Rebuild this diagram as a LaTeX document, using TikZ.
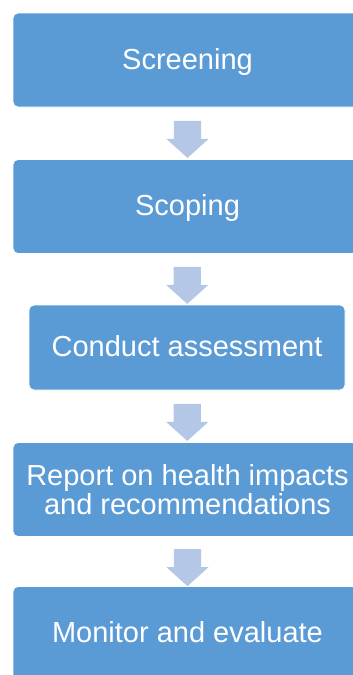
\documentclass[tikz,border=0pt]{standalone}
\usepackage{fontspec}
\setmainfont{Liberation Sans}
\usetikzlibrary{shapes.arrows,calc}
\definecolor{stageblue}{HTML}{5B9BD5}
\definecolor{flowblue}{HTML}{B4C7E7}
\tikzset{
  stage/.style={fill=stageblue, draw=white, line width=0.8pt, rounded corners=5pt,
    text=white, font=\fontsize{29}{29.5}\selectfont, align=center,
    minimum width=349pt, minimum height=94pt, inner sep=0pt,
    text height=22pt, text depth=4pt},
  flow/.style={single arrow, shape border rotate=270, fill=flowblue, draw=none,
    minimum height=37pt, minimum width=42pt, single arrow head extend=7.5pt,
    single arrow tip angle=96, inner xsep=13.5pt, inner ysep=0pt}
}
\begin{document}
\begin{tikzpicture}[x=1pt,y=-1pt]
  \useasboundingbox (0,0) rectangle (353,675);
  \clip (0,0) rectangle (353,675);
  % --- stages ---
  \node[stage] (screen) at (187.5,60) {Screening};
  \node[stage] (scope) at (187.5,206.5) {Scoping};
  \node[stage, minimum width=316pt, minimum height=85pt] (assess) at (187,347.5) {Conduct assessment};
  \node[stage, text height=, text depth=] (report) at (187.5,489.5) {Report on health impacts\\and recommendations};
  \node[stage] (monitor) at (187.5,633.5) {Monitor and evaluate};
  % --- arrows between stages ---
  \foreach \a/\b [count=\i] in {screen/scope, scope/assess, assess/report, report/monitor}
    \node[flow] (step\i) at ($(\a.south)!0.5!(\b.north)$) {};
\end{tikzpicture}
\end{document}
